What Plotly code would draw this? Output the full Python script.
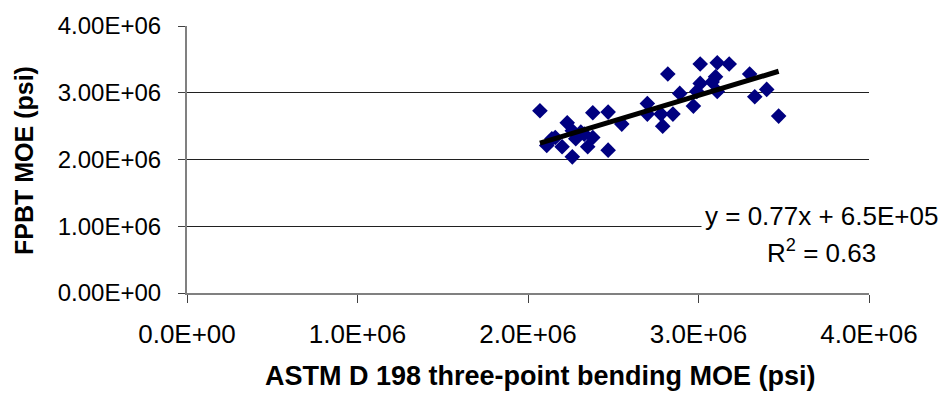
import plotly.graph_objects as go

# ASTM D 198 three-point bending MOE (psi)
astm_moe = [2.07e6, 2.11e6, 2.14e6, 2.16e6, 2.20e6, 2.23e6, 2.26e6, 2.26e6, 2.28e6,
            2.31e6, 2.33e6, 2.35e6, 2.38e6, 2.38e6, 2.47e6, 2.47e6, 2.55e6, 2.70e6,
            2.70e6, 2.78e6, 2.79e6, 2.82e6, 2.85e6, 2.89e6, 2.97e6, 2.99e6, 3.01e6,
            3.01e6, 3.08e6, 3.10e6, 3.11e6, 3.11e6, 3.18e6, 3.30e6, 3.33e6, 3.40e6,
            3.47e6]
# FPBT MOE (psi)
fpbt_moe = [2.73e6, 2.21e6, 2.31e6, 2.33e6, 2.19e6, 2.55e6, 2.43e6, 2.04e6, 2.31e6,
            2.41e6, 2.38e6, 2.19e6, 2.33e6, 2.70e6, 2.71e6, 2.14e6, 2.53e6, 2.84e6,
            2.68e6, 2.68e6, 2.50e6, 3.28e6, 2.68e6, 2.99e6, 2.80e6, 3.02e6, 3.43e6,
            3.14e6, 3.16e6, 3.24e6, 3.45e6, 3.02e6, 3.43e6, 3.28e6, 2.94e6, 3.05e6,
            2.65e6]

slope = 0.77
intercept = 6.5e5
equation_text = "y = 0.77x + 6.5E+05"
r2_text = "R<sup>2</sup> = 0.63"

x_tickvals = [0, 1e6, 2e6, 3e6, 4e6]
x_ticktext = ["0.0E+00", "1.0E+06", "2.0E+06", "3.0E+06", "4.0E+06"]
y_tickvals = [0, 1e6, 2e6, 3e6, 4e6]
y_ticktext = ["0.00E+00", "1.00E+06", "2.00E+06", "3.00E+06", "4.00E+06"]

x_title = "ASTM D 198 three-point bending MOE (psi)"
y_title = "FPBT MOE (psi)"

FONT = "Arial, Liberation Sans, sans-serif"

trend_x = [min(astm_moe), max(astm_moe)]
trend_y = [slope * v + intercept for v in trend_x]

fig = go.Figure()
fig.add_trace(go.Scatter(
    x=astm_moe, y=fpbt_moe, mode="markers",
    marker=dict(symbol="diamond", size=12, color="#000080",
                line=dict(width=0)),
    showlegend=False, cliponaxis=False))
fig.add_trace(go.Scatter(
    x=trend_x, y=trend_y, mode="lines",
    line=dict(color="black", width=5),
    showlegend=False))

L, R, T, B = 187, 79, 20, 105
W, H = 948, 398
pw, ph = W - L - R, H - T - B

def px(xp):
    return (xp - L) / pw

def py(yp):
    return (H - B - yp) / ph

fig.update_layout(
    width=W, height=H,
    margin=dict(l=L, r=R, t=T, b=B, pad=0),
    paper_bgcolor="white", plot_bgcolor="white",
    font=dict(family=FONT, color="black", size=22),
    xaxis=dict(range=[0, 4e6], tickvals=x_tickvals, ticktext=x_ticktext,
               showgrid=False, zeroline=False, showline=True,
               linecolor="#808080", linewidth=2,
               ticks="outside", ticklen=8, tickcolor="#404040", tickwidth=1,
               tickfont=dict(size=26), ticklabelstandoff=9),
    yaxis=dict(range=[0, 4e6], tickvals=y_tickvals, ticktext=y_ticktext,
               showgrid=True, gridcolor="#202020", gridwidth=1,
               zeroline=False, showline=True,
               linecolor="#808080", linewidth=2,
               ticks="outside", ticklen=7, tickcolor="#404040", tickwidth=1,
               tickfont=dict(size=24), ticklabelstandoff=12),
    annotations=[
        dict(text="<b>" + x_title + "</b>", xref="paper", yref="paper",
             x=px(540), y=py(378), xanchor="center", yanchor="middle",
             showarrow=False, font=dict(size=27)),
        dict(text="<b>" + y_title + "</b>", xref="paper", yref="paper",
             x=px(24), y=py(158), xanchor="center", yanchor="middle",
             textangle=-90, showarrow=False, font=dict(size=25)),
        dict(text=equation_text, xref="paper", yref="paper",
             x=px(821), y=py(214), xanchor="center", yanchor="middle",
             showarrow=False, font=dict(size=26), bgcolor="white", borderpad=3),
        dict(text=r2_text, xref="paper", yref="paper",
             x=px(821), y=py(251), xanchor="center", yanchor="middle",
             showarrow=False, font=dict(size=26)),
    ],
)

fig.write_html("out.html")
